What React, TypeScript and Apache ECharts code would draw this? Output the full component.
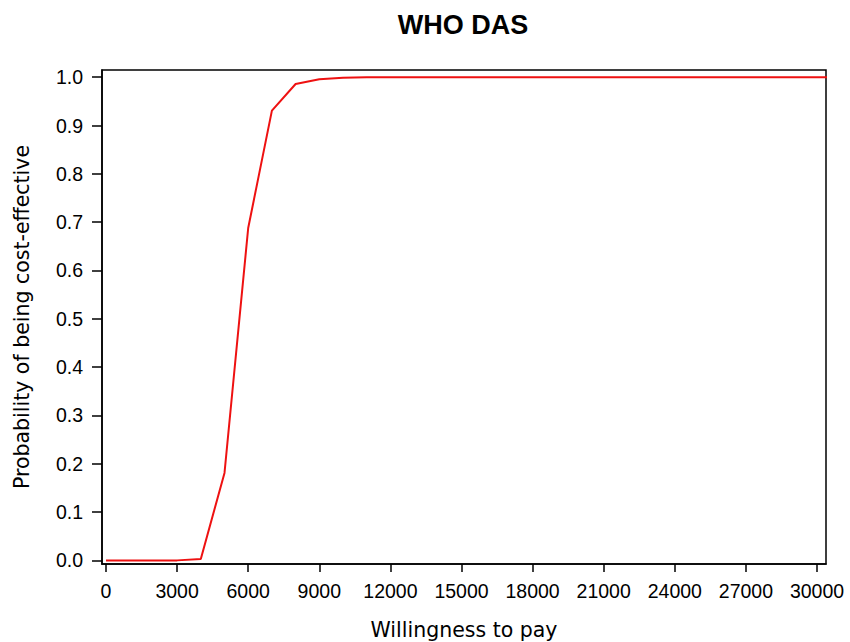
import React, { useEffect, useRef } from "react";
import * as echarts from "echarts";

const wtp = [0, 1000, 2000, 3000, 4000, 5000, 6000, 7000, 8000, 9000, 10000, 11000, 12000, 13000, 14000, 15000, 16000, 17000, 18000, 19000, 20000, 21000, 22000, 23000, 24000, 25000, 26000, 27000, 28000, 29000, 30000, 31000];
const prob = [0, 0, 0, 0, 0.003, 0.181, 0.688, 0.931, 0.986, 0.996, 0.999, 1, 1, 1, 1, 1, 1, 1, 1, 1, 1, 1, 1, 1, 1, 1, 1, 1, 1, 1, 1, 1];
const xTicks = [0, 3000, 6000, 9000, 12000, 15000, 18000, 21000, 24000, 27000, 30000];
const yTicks = [0, 0.1, 0.2, 0.3, 0.4, 0.5, 0.6, 0.7, 0.8, 0.9, 1.0];

const LABEL_FONT = "'Liberation Sans', Arial, sans-serif";
const NAME_FONT = "'DejaVu Sans', sans-serif";

export default function App() {
  const ref = useRef<HTMLDivElement>(null);
  useEffect(() => {
    if (!ref.current) return;
    const chart = echarts.init(ref.current, null, { renderer: "svg" });
    chart.setOption({
      animation: false,
      backgroundColor: "#fff",
      title: {
        text: "WHO DAS",
        left: 458,
        top: 6,
        textAlign: "center",
        textStyle: { fontFamily: "'Liberation Sans', Arial, sans-serif", fontWeight: "bold", fontSize: 27, color: "#000" },
      },
      grid: {
        left: 102,
        right: 24,
        top: 70,
        bottom: 78,
        outerBoundsMode: "none",
        containLabel: false,
        show: true,
        borderColor: "#000",
        borderWidth: 1.5,
        backgroundColor: "transparent",
      },
      xAxis: {
        type: "value",
        min: -169,
        max: 30380,
        name: "Willingness to pay",
        nameLocation: "middle",
        nameGap: 55,
        nameTextStyle: { fontFamily: NAME_FONT, fontSize: 20.5, color: "#000" },
        axisLine: { show: true, onZero: false, lineStyle: { color: "#000", width: 1.5 } },
        axisTick: { show: true, length: 8, lineStyle: { color: "#000", width: 1.5 }, customValues: xTicks },
        axisLabel: { fontFamily: LABEL_FONT, fontSize: 19.5, color: "#000", margin: 17, customValues: xTicks, formatter: (v: number) => String(v) },
        splitLine: { show: false },
      },
      yAxis: {
        type: "value",
        min: -0.0075,
        max: 1.015,
        name: "Probability of being cost-effective",
        nameLocation: "middle",
        nameGap: 70,
        nameTextStyle: { fontFamily: NAME_FONT, fontSize: 20.5, color: "#000" },
        axisLine: { show: true, onZero: false, lineStyle: { color: "#000", width: 1.5 } },
        axisTick: { show: true, length: 10, lineStyle: { color: "#000", width: 1.5 }, customValues: yTicks },
        axisLabel: { fontFamily: LABEL_FONT, fontSize: 19.5, color: "#000", margin: 19, customValues: yTicks, formatter: (v: number) => v.toFixed(1) },
        splitLine: { show: false },
      },
      series: [
        {
          type: "line",
          data: wtp.map((x, i) => [x, prob[i]]),
          showSymbol: false,
          symbol: "none",
          clip: true,
          lineStyle: { color: "#ee1111", width: 2 },
        },
      ],
    });
    return () => chart.dispose();
  }, []);
  return <div ref={ref} style={{ position: "absolute", left: 0, top: 0, width: 850, height: 642 }} />;
}
